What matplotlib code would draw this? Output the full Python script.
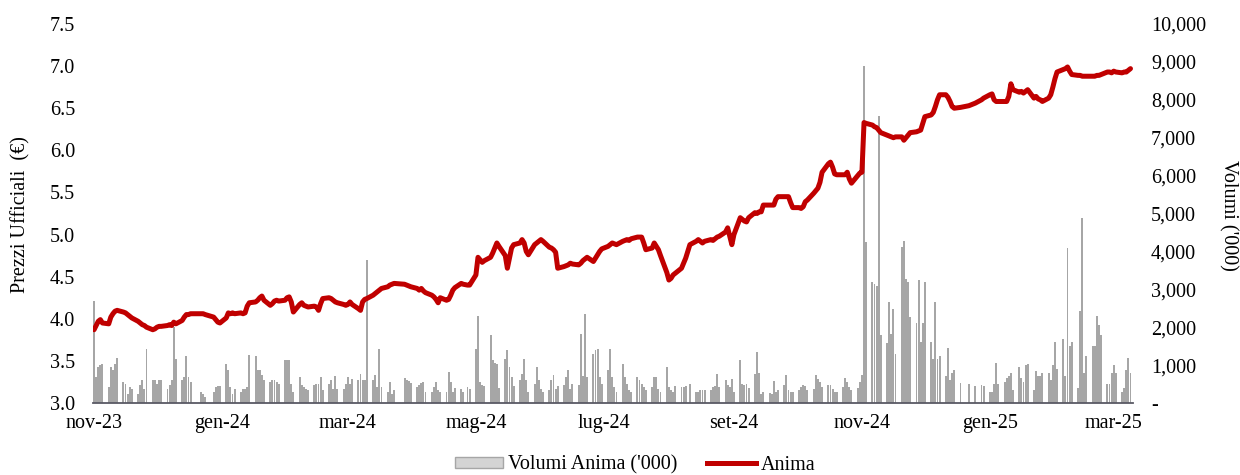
import matplotlib
matplotlib.use("Agg")
import matplotlib.pyplot as plt
from matplotlib.lines import Line2D
from matplotlib.patches import Patch
from matplotlib.ticker import FuncFormatter
import pandas as pd

# trading days shown (Borsa Italiana closing days removed)
start = "2023-11-06"
end = "2025-03-14"
holidays = ["2023-12-25", "2023-12-26", "2024-01-01", "2024-03-29",
            "2024-04-01", "2024-05-01", "2024-08-15", "2024-12-24",
            "2024-12-25", "2024-12-26", "2024-12-31", "2025-01-01"]

# official prices (EUR), one row per week
price = [
    3.87, 3.92, 3.97, 3.99, 3.95,
    3.94, 4.02, 4.06, 4.09, 4.10,
    4.08, 4.07, 4.05, 4.03, 4.01,
    3.97, 3.95, 3.93, 3.92, 3.90,
    3.87, 3.88, 3.90, 3.91, 3.91,
    3.92, 3.93, 3.92, 3.96, 3.94,
    3.98, 4.02, 4.05, 4.05, 4.06,
    4.06, 4.06, 4.05,
    4.02, 3.99, 3.96, 3.95,
    4.01, 4.07, 4.06, 4.07, 4.06,
    4.07, 4.06, 4.07, 4.15, 4.19,
    4.20, 4.22, 4.25, 4.27, 4.22,
    4.16, 4.18, 4.21, 4.22, 4.21,
    4.22, 4.25, 4.26, 4.20, 4.08,
    4.17, 4.19, 4.16, 4.15, 4.14,
    4.15, 4.14, 4.10, 4.18, 4.24,
    4.25, 4.24, 4.22, 4.20, 4.19,
    4.17, 4.16, 4.17, 4.20, 4.17,
    4.12, 4.10, 4.20, 4.23, 4.24,
    4.28, 4.30, 4.32, 4.34, 4.36,
    4.38, 4.40, 4.41, 4.42,
    4.41, 4.40, 4.39, 4.38,
    4.36, 4.34, 4.36, 4.33, 4.31,
    4.28, 4.26, 4.23, 4.19, 4.25,
    4.22, 4.23, 4.28, 4.34, 4.37,
    4.42, 4.41, 4.40, 4.40,
    4.52, 4.73, 4.70, 4.67, 4.69,
    4.73, 4.78, 4.84, 4.90, 4.86,
    4.75, 4.60, 4.72, 4.84, 4.88,
    4.90, 4.94, 4.90, 4.80, 4.76,
    4.88, 4.90, 4.92, 4.94, 4.92,
    4.85, 4.84, 4.82, 4.79, 4.60,
    4.62, 4.63, 4.64, 4.66, 4.65,
    4.64, 4.66, 4.69, 4.71, 4.73,
    4.68, 4.72, 4.76, 4.80, 4.83,
    4.86, 4.88, 4.90, 4.89, 4.88,
    4.92, 4.93, 4.94, 4.93, 4.95,
    4.97, 4.97, 4.97, 4.90, 4.82,
    4.84, 4.90, 4.86, 4.82, 4.75,
    4.55, 4.46, 4.48, 4.52, 4.54,
    4.60, 4.66, 4.72, 4.88,
    4.92, 4.94, 4.92, 4.90, 4.92,
    4.94, 4.93, 4.95, 4.97, 4.98,
    5.03, 5.08, 4.98, 4.88, 5.00,
    5.20, 5.18, 5.16, 5.15, 5.20,
    5.26, 5.25, 5.27, 5.27, 5.35,
    5.35, 5.35, 5.35, 5.42, 5.45,
    5.45, 5.45, 5.45, 5.38, 5.32,
    5.32, 5.31, 5.33, 5.39, 5.41,
    5.49, 5.52, 5.55, 5.62, 5.74,
    5.84, 5.86, 5.80, 5.72, 5.71,
    5.71, 5.71, 5.74, 5.66, 5.61,
    5.70, 5.73, 5.74, 6.33, 6.32,
    6.30, 6.28, 6.27, 6.24, 6.21,
    6.18, 6.17, 6.16, 6.15, 6.16,
    6.16, 6.12, 6.15, 6.18, 6.21,
    6.22, 6.23, 6.24, 6.32, 6.40,
    6.42, 6.45, 6.52, 6.60, 6.66,
    6.66, 6.63, 6.58, 6.52, 6.50,
    6.51, 6.53,
    6.56, 6.60, 6.62,
    6.66, 6.67, 6.60, 6.58, 6.58,
    6.58, 6.58, 6.64, 6.79, 6.72,
    6.69, 6.70, 6.68, 6.70, 6.72,
    6.62, 6.64, 6.61, 6.60, 6.58,
    6.62, 6.66, 6.75, 6.85, 6.93,
    6.96, 6.97, 6.99, 6.94, 6.90,
    6.89, 6.89, 6.88, 6.88, 6.88,
    6.88, 6.88, 6.89, 6.89, 6.90,
    6.93, 6.93, 6.92, 6.94, 6.93,
    6.92, 6.93, 6.93, 6.95, 6.97,
]

# daily volumes ('000 shares), one row per week
volume = [
    2690, 690, 950, 1000, 1040,
    420, 950, 860, 1040, 1200,
    550, 510, 250, 420, 380,
    250, 470, 600, 380, 1420,
    620, 600, 510, 600, 600,
    380, 470, 600, 2000, 1170,
    600, 690, 1240, 690, 550,
    290, 250, 160,
    290, 420, 440, 440,
    1040, 860, 420, 250, 380,
    290, 380, 380, 420, 1260,
    1230, 860, 860, 730, 600,
    550, 600, 600, 550, 510,
    1130, 1140, 1130, 510, 300,
    690, 470, 420, 380, 330,
    470, 490, 510, 690, 330,
    510, 600, 380, 700, 380,
    380, 510, 690, 510, 640,
    600, 760, 600, 600, 3770,
    600, 730, 420, 1430, 420,
    290, 550, 250, 330,
    660, 620, 580, 520,
    430, 480, 520, 560, 300,
    290, 420, 560, 340, 300,
    290, 820, 560, 290, 400,
    380, 290, 420, 380,
    1430, 2300, 550, 480, 460,
    1790, 1130, 1050, 1020, 400,
    1170, 1390, 950, 690, 450,
    600, 770, 1170, 600, 300,
    510, 950, 600, 380, 300,
    330, 600, 730, 380, 450,
    470, 690, 860, 380, 500,
    470, 1830, 700, 2360, 690,
    1300, 1390, 1430, 690, 500,
    860, 1430, 690, 420, 300,
    1040, 690, 510, 330, 300,
    690, 600, 510, 420, 350,
    420, 690, 690, 380, 300,
    950, 420, 330, 300, 450,
    420, 420, 440, 490,
    290, 290, 330, 330, 330,
    350, 420, 450, 770, 420,
    600, 470, 420, 640, 290,
    1140, 510, 470, 510, 400,
    760, 1350, 780, 250, 300,
    260, 250, 580, 290, 350,
    470, 730, 330, 290, 300,
    330, 420, 470, 440, 350,
    380, 730, 640, 550, 420,
    470, 470, 380, 290, 300,
    420, 670, 550, 420, 350,
    400, 550, 730, 8900, 4250,
    3200, 3150, 3100, 7570, 1800,
    1570, 2670, 1830, 2490, 1300,
    4120, 4280, 3280, 3190, 2270,
    2100, 3250, 1600, 2100, 3200,
    1610, 1170, 2670, 1170, 1250,
    700, 1440, 600, 800, 870,
    520, 500,
    460, 480, 460,
    300, 300, 500, 1060, 500,
    550, 650, 700, 800, 350,
    950, 650, 550, 1000, 1040,
    350, 850, 700, 700, 800,
    800, 600, 1000, 1620, 900,
    1700, 700, 4100, 1500, 1600,
    400, 2430, 4880, 800, 1230,
    1500, 1500, 2300, 2050, 1800,
    500, 500, 800, 1000, 800,
    300, 400, 880, 1180, 800,
]

tick_dates = ["2023-11-06", "2024-01-06", "2024-03-06", "2024-05-06",
              "2024-07-06", "2024-09-06", "2024-11-06", "2025-01-06",
              "2025-03-06"]
tick_labels = ["nov-23", "gen-24", "mar-24", "mag-24", "lug-24",
               "set-24", "nov-24", "gen-25", "mar-25"]

days = pd.bdate_range(start, end)
days = days[~days.isin(pd.to_datetime(holidays))]
if not (len(days) == len(price) == len(volume)):
    raise ValueError(f"{len(days)} days, {len(price)} prices, {len(volume)} volumes")

plt.rcParams['font.family'] = ['Liberation Serif', 'DejaVu Serif']
fs = 14.5

fig = plt.figure(figsize=(12.4, 4.75), dpi=100)
ax = fig.add_axes([93 / 1240, 72 / 475, 1040 / 1240, 379 / 475])
ax2 = ax.twinx()

ax2.bar(days, volume, width=0.9, color='#a6a6a6', linewidth=0)
ax.plot(days, price, color='#c00000', lw=3.6, solid_capstyle='round',
        solid_joinstyle='round')
ax.set_zorder(ax2.get_zorder() + 1)
ax.patch.set_visible(False)

t0 = pd.Timestamp(start)
ax.set_xlim(t0 - pd.Timedelta(days=0.5), t0 + pd.Timedelta(days=495.2))
ax.set_ylim(3.0, 7.5)
ax.set_yticks([3.0 + 0.5 * i for i in range(10)])
ax.yaxis.set_major_formatter(FuncFormatter(lambda v, p: f"{v:.1f}"))
ax2.set_ylim(0, 10000)
ax2.set_yticks(range(0, 10001, 1000))
ax2.yaxis.set_major_formatter(
    FuncFormatter(lambda v, p: "-" if v == 0 else f"{v:,.0f}"))

ax.set_xticks(pd.to_datetime(tick_dates))
ax.set_xticklabels(tick_labels)

for s in ["left", "right", "top"]:
    ax.spines[s].set_visible(False)
for s in ax2.spines.values():
    s.set_visible(False)
ax.spines["bottom"].set_color('#595964')
ax.spines["bottom"].set_linewidth(1.3)

ax.tick_params(axis='y', length=0, labelsize=fs, pad=13)
ax.tick_params(axis='x', length=0, labelsize=fs, pad=8)
ax2.tick_params(axis='y', length=0, labelsize=fs, pad=13)

fig.text(21 / 1240, 1 - 215 / 475, "Prezzi Ufficiali  (€)", rotation=90,
         ha='center', va='center', fontsize=fs)
fig.text(1228 / 1240, 1 - 215 / 475, "Volumi ('000)", rotation=270,
         ha='center', va='center', fontsize=fs)

handles = [Patch(facecolor='#d4d4d4', edgecolor='#a6a6a6'),
           Line2D([], [], color='#c00000', lw=3.6)]
fig.legend(handles, ["Volumi Anima ('000)", "Anima"], loc='center',
           bbox_to_anchor=(635 / 1240, 10 / 475), ncol=2, frameon=False,
           fontsize=fs, handlelength=2.4, handleheight=0.5,
           handletextpad=0.25, columnspacing=1.5)

fig.savefig("out.png", dpi=100)
